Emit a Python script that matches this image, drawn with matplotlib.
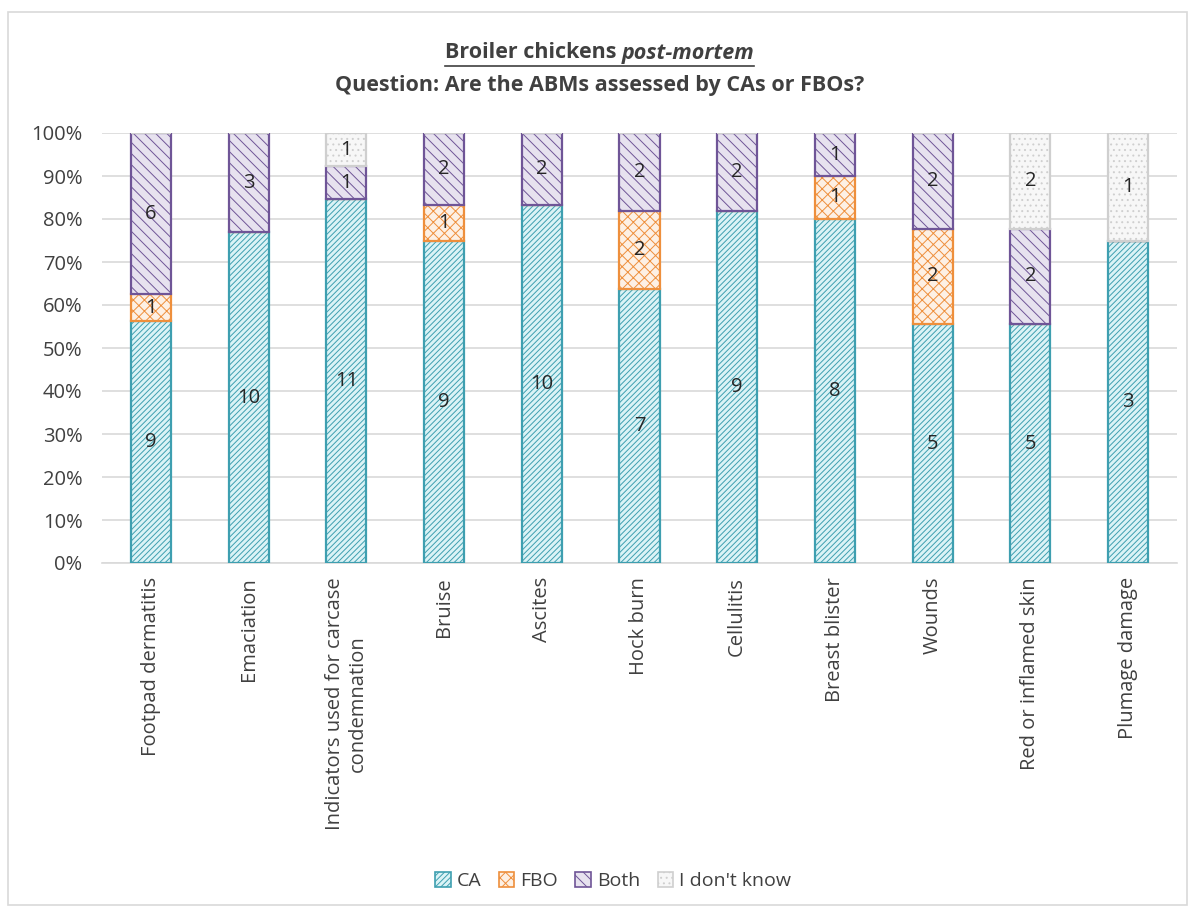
import numpy as np
import matplotlib
matplotlib.use('Agg')
import matplotlib.pyplot as plt
from matplotlib.patches import Rectangle, Patch

# Data (number of answers per ABM)
categories = ['Footpad dermatitis', 'Emaciation', 'Indicators used for carcase\ncondemnation',
              'Bruise', 'Ascites', 'Hock burn', 'Cellulitis', 'Breast blister', 'Wounds',
              'Red or inflamed skin', 'Plumage damage']
ca = [9, 10, 11, 9, 10, 7, 9, 8, 5, 5, 3]
fbo = [1, 0, 0, 1, 0, 2, 0, 1, 2, 0, 0]
both = [6, 3, 1, 2, 2, 2, 2, 1, 2, 2, 0]
dont_know = [0, 0, 1, 0, 0, 0, 0, 0, 0, 2, 1]
series_names = ['CA', 'FBO', 'Both', "I don't know"]

plt.rcParams['font.family'] = ['Open Sans', 'DejaVu Sans']
plt.rcParams['hatch.linewidth'] = 0.7

# styles: face, edge(hatch colour), hatch
styles = [
    ('#dbf3f6', '#3e9fb0', '//////'),
    ('#fdf0e4', '#ee8f3c', 'xxx'),
    ('#e7e2ef', '#6f5597', '\\\\\\'),
    ('#f7f7f7', '#cfcfcf', '...'),
]

fig = plt.figure(figsize=(11.95, 9.11), dpi=100)
ax = fig.add_axes([102 / 1195, 1 - 563 / 911, 1075 / 1195, 430 / 911])

# outer chart border
fig.patches.append(Rectangle((8 / 1195, 1 - 905 / 911), 1179 / 1195, 893 / 911,
                             transform=fig.transFigure, fill=False,
                             edgecolor='#d9d9d9', linewidth=1.2))

counts = np.array([ca, fbo, both, dont_know], dtype=float)
totals = counts.sum(axis=0)
shares = counts / totals * 100
x = np.arange(len(categories))
bottom = np.zeros(len(categories))
for i, name in enumerate(series_names):
    face, edge, hatch = styles[i]
    ax.bar(x, shares[i], 0.41, bottom=bottom, color=face, edgecolor=edge,
           hatch=hatch, linewidth=1.6, label=name, zorder=3)
    for j in range(len(categories)):
        if counts[i, j] > 0:
            ax.text(x[j], bottom[j] + shares[i, j] / 2, f'{int(counts[i, j])}',
                    ha='center', va='center', fontsize=14.5, color='#262626', zorder=4)
    bottom += shares[i]

ax.set_xlim(-0.5, len(categories) - 0.5)
ax.set_ylim(0, 100)
ax.set_yticks(np.arange(0, 101, 10))
ax.set_yticklabels([f'{v}%' for v in range(0, 101, 10)])
ax.yaxis.grid(True, color='#d9d9d9', linewidth=1.2, zorder=0)
ax.set_axisbelow(True)
for s in ['top', 'right', 'left']:
    ax.spines[s].set_visible(False)
ax.spines['bottom'].set_color('#d9d9d9')
ax.spines['bottom'].set_linewidth(1.2)
ax.tick_params(axis='both', length=0, labelsize=14.5, colors='#404040')
ax.tick_params(axis='y', pad=14)
ax.tick_params(axis='x', pad=10)
ax.set_xticks(x)
ax.set_xticklabels(categories, rotation=90, ha='center', va='top', multialignment='center')

# title, first line underlined with an italic part
t1 = fig.text(0, 1 - 53 / 911, 'Broiler chickens ', fontsize=15.5, fontweight='bold',
              color='#404040', va='center', ha='left')
t2 = fig.text(0, 1 - 53 / 911, 'post-mortem', fontsize=15.5, fontweight='bold',
              fontstyle='italic', color='#404040', va='center', ha='left')
fig.text(0.5 + 2 / 1195, 1 - 85 / 911, 'Question: Are the ABMs assessed by CAs or FBOs?',
         fontsize=15.5, fontweight='bold', color='#404040', va='center', ha='center')
fig.canvas.draw()
r = fig.canvas.get_renderer()
w1 = t1.get_window_extent(r).width / fig.bbox.width
w2 = t2.get_window_extent(r).width / fig.bbox.width
x0 = 0.5 + 2 / 1195 - (w1 + w2) / 2
t1.set_x(x0)
t2.set_x(x0 + w1)
fig.lines.append(plt.Line2D([x0, x0 + w1 + w2], [1 - 66 / 911, 1 - 66 / 911],
                            transform=fig.transFigure, color='#404040', linewidth=1.2))

handles = [Patch(facecolor=s[0], edgecolor=s[1], hatch=s[2], linewidth=1.2) for s in styles]
fig.legend(handles, series_names, loc='center', bbox_to_anchor=(0.513, 1 - 881 / 911),
           ncol=4, frameon=False, fontsize=14, handlelength=0.8, handleheight=0.8,
           handletextpad=0.3, columnspacing=0.9, labelcolor='#404040')

fig.savefig('out.png', dpi=100, facecolor='white')
